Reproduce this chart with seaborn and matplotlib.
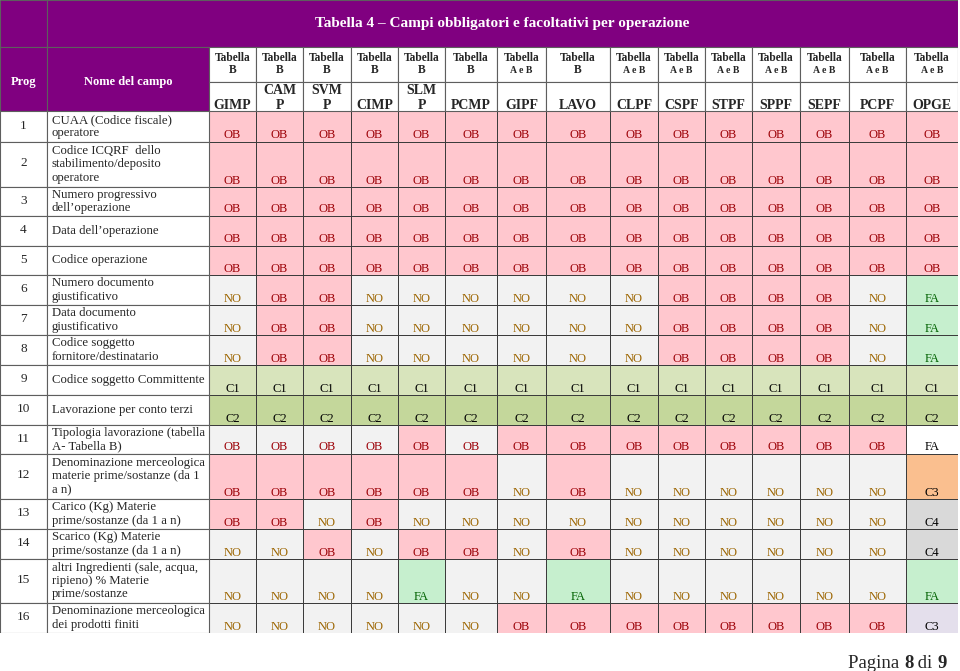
import matplotlib
matplotlib.use("Agg")
import numpy as np
import matplotlib.pyplot as plt
import seaborn as sns
from matplotlib.colors import ListedColormap
from matplotlib.patches import Rectangle
from matplotlib.transforms import offset_copy

TITLE = "Tabella 4 – Campi obbligatori e facoltativi per operazione"
OPERATIONS = ["GIMP", "CAMP", "SVMP", "CIMP", "SLMP", "PCMP", "GIPF", "LAVO",
              "CLPF", "CSPF", "STPF", "SPPF", "SEPF", "PCPF", "OPGE"]
OP_LINES = [["GIMP"], ["CAM", "P"], ["SVM", "P"], ["CIMP"], ["SLM", "P"], ["PCMP"],
            ["GIPF"], ["LAVO"], ["CLPF"], ["CSPF"], ["STPF"], ["SPPF"], ["SEPF"],
            ["PCPF"], ["OPGE"]]
OP_TABLE = ["B"] * 6 + ["A e B", "B"] + ["A e B"] * 7
PROG = [str(i) for i in range(1, 17)]
FIELDS = [
    "CUAA (Codice fiscale)\noperatore",
    "Codice ICQRF  dello\nstabilimento/deposito\noperatore",
    "Numero progressivo\ndell’operazione",
    "Data dell’operazione",
    "Codice operazione",
    "Numero documento\ngiustificativo",
    "Data documento\ngiustificativo",
    "Codice soggetto\nfornitore/destinatario",
    "Codice soggetto Committente",
    "Lavorazione per conto terzi",
    "Tipologia lavorazione (tabella\nA- Tabella B)",
    "Denominazione merceologica\nmaterie prime/sostanze (da 1\na n)",
    "Carico (Kg) Materie\nprime/sostanze (da 1 a n)",
    "Scarico (Kg) Materie\nprime/sostanze (da 1 a n)",
    "altri Ingredienti (sale, acqua,\nripieno) % Materie\nprime/sostanze",
    "Denominazione merceologica\ndei prodotti finiti",
]
VALUES = [
    "OB OB OB OB OB OB OB OB OB OB OB OB OB OB OB",
    "OB OB OB OB OB OB OB OB OB OB OB OB OB OB OB",
    "OB OB OB OB OB OB OB OB OB OB OB OB OB OB OB",
    "OB OB OB OB OB OB OB OB OB OB OB OB OB OB OB",
    "OB OB OB OB OB OB OB OB OB OB OB OB OB OB OB",
    "NO OB OB NO NO NO NO NO NO OB OB OB OB NO FA",
    "NO OB OB NO NO NO NO NO NO OB OB OB OB NO FA",
    "NO OB OB NO NO NO NO NO NO OB OB OB OB NO FA",
    "C1 C1 C1 C1 C1 C1 C1 C1 C1 C1 C1 C1 C1 C1 C1",
    "C2 C2 C2 C2 C2 C2 C2 C2 C2 C2 C2 C2 C2 C2 C2",
    "OB OB OB OB OB OB OB OB OB OB OB OB OB OB FA",
    "OB OB OB OB OB OB NO OB NO NO NO NO NO NO C3",
    "OB OB NO OB NO NO NO NO NO NO NO NO NO NO C4",
    "NO NO OB NO OB OB NO OB NO NO NO NO NO NO C4",
    "NO NO NO NO FA NO NO FA NO NO NO NO NO NO FA",
    "NO NO NO NO NO NO OB OB OB OB OB OB OB OB C3",
]
# cell fills that differ from the usual colour of their code
FILL_OVERRIDES = {(10, 0): "grey", (10, 1): "grey", (10, 2): "grey", (10, 3): "grey",
                  (10, 5): "grey", (10, 14): "white", (15, 14): "lavender"}

FILL_NAMES = ["pink", "grey", "green", "c1", "c2", "orange", "c4", "lavender", "white"]
FILL_COLORS = ["#FFC7CE", "#F2F2F2", "#C6EFCE", "#D8E4BC", "#C4D79B", "#FABF8F",
               "#D9D9D9", "#E4DFEC", "#FFFFFF"]
CODE_FILL = {"OB": "pink", "NO": "grey", "FA": "green", "C1": "c1", "C2": "c2",
             "C3": "orange", "C4": "c4"}
CODE_TEXT = {"OB": "#9C0006", "NO": "#9C6500", "FA": "#006100", "C1": "black",
             "C2": "black", "C3": "black", "C4": "black"}

# table geometry (pixels of the page)
X_EDGES = [0, 47, 209, 256, 303, 351, 398, 445, 497, 546, 610, 658, 705, 752, 800, 849, 906, 958]
Y_EDGES = [0, 47, 82, 111, 142, 187, 216, 246, 275, 305, 335, 365, 395, 425, 454, 499,
           529, 559, 603, 633]
PURPLE = "#800080"
SERIF = "Liberation Serif"

labels = np.array([row.split() for row in VALUES])
codes = np.zeros(labels.shape, dtype=int)
for r in range(labels.shape[0]):
    for c in range(labels.shape[1]):
        name = FILL_OVERRIDES.get((r, c), CODE_FILL[labels[r, c]])
        codes[r, c] = FILL_NAMES.index(name)

sns.set_style("white")
plt.rcParams["font.family"] = [SERIF, "DejaVu Serif"]

fig = plt.figure(figsize=(9.6, 6.71), dpi=100)
W, H = 960, 671
ax = fig.add_axes([0, 1 - Y_EDGES[-1] / H, X_EDGES[-1] / W, Y_EDGES[-1] / H])

sns.heatmap(codes, ax=ax, cmap=ListedColormap(FILL_COLORS), vmin=-0.5,
            vmax=len(FILL_COLORS) - 0.5, cbar=False, linewidths=0.7,
            linecolor="#3c3c3c", annot=labels, fmt="",
            annot_kws={"fontsize": 9, "family": SERIF},
            xticklabels=False, yticklabels=False)

# piecewise-linear scales so every column / row gets its own width / height
xd = np.arange(-2, len(OPERATIONS) + 1, dtype=float)
yd = np.arange(-3, len(FIELDS) + 1, dtype=float)
xp = np.array(X_EDGES, dtype=float)
yp = np.array(Y_EDGES, dtype=float)
xd_e = np.r_[xd[0] - 50, xd, xd[-1] + 50]
xp_e = np.r_[xp[0] - 2500, xp, xp[-1] + 2500]
yd_e = np.r_[yd[0] - 50, yd, yd[-1] + 50]
yp_e = np.r_[yp[0] - 2500, yp, yp[-1] + 2500]
x_fwd = lambda v: np.interp(v, xd_e, xp_e)
x_inv = lambda p: np.interp(p, xp_e, xd_e)
ax.set_xscale("function", functions=(x_fwd, x_inv))
ax.set_yscale("function", functions=(lambda v: np.interp(v, yd_e, yp_e),
                                     lambda p: np.interp(p, yp_e, yd_e)))
ax.set_xlim(-2, len(OPERATIONS))
ax.set_ylim(len(FIELDS), -3)
ax.set_xticks([]); ax.set_yticks([])
ax.set_xticks([], minor=True); ax.set_yticks([], minor=True)
for s in ax.spines.values():
    s.set_visible(False)

# values sit at the bottom of their cells
lift = offset_copy(ax.transData, fig=fig, x=0, y=3.5, units="dots")
for t in ax.texts:
    x, y = t.get_position()
    r, c = int(y), int(x)
    code = labels[r, c]
    colour = "black" if FILL_NAMES[codes[r, c]] == "white" else CODE_TEXT[code]
    t.set_position((x, r + 1))
    t.set_verticalalignment("baseline")
    t.set_transform(lift)
    t.set_color(colour)

edge = dict(edgecolor="#5e5e5e", linewidth=0.8)

# title row and purple header cells
ax.add_patch(Rectangle((-2, -3), 1, 1, facecolor=PURPLE, **edge))
ax.add_patch(Rectangle((-1, -3), len(OPERATIONS) + 1, 1, facecolor=PURPLE, **edge))
title_x = float(x_inv((x_fwd(-1) + x_fwd(len(OPERATIONS))) / 2))
ax.text(title_x, -2.5, TITLE, ha="center", va="center",
        color="white", fontsize=11, fontweight="bold")
ax.add_patch(Rectangle((-2, -2), 1, 2, facecolor=PURPLE, **edge))
ax.add_patch(Rectangle((-1, -2), 1, 2, facecolor=PURPLE, **edge))
ax.text(-1.5, -1.0, "Prog", ha="center", va="center", color="white",
        fontsize=9, fontweight="bold")
ax.text(-0.5, -1.0, "Nome del campo", ha="center", va="center", color="white",
        fontsize=9, fontweight="bold")

# operation header cells
for c, (tab, lines) in enumerate(zip(OP_TABLE, OP_LINES)):
    ax.add_patch(Rectangle((c, -2), 1, 1, facecolor="white", **edge))
    ax.add_patch(Rectangle((c, -1), 1, 1, facecolor="white", **edge))
    ax.text(c + 0.5, -1.6, "Tabella", ha="center", va="baseline",
            fontsize=8.3, fontweight="bold")
    ax.text(c + 0.5, -1.25, tab, ha="center", va="baseline",
            fontsize=8.3 if tab == "B" else 7.0, fontweight="bold")
    if len(lines) == 1:
        ax.text(c + 0.5, -0.07, lines[0], ha="center", va="baseline",
                fontsize=10, fontweight="bold")
    else:
        ax.text(c + 0.5, -0.6, lines[0], ha="center", va="baseline",
                fontsize=10, fontweight="bold")
        ax.text(c + 0.5, -0.07, lines[1], ha="center", va="baseline",
                fontsize=10, fontweight="bold")

# left columns: progressive number and field name
for r, (p, f) in enumerate(zip(PROG, FIELDS)):
    ax.add_patch(Rectangle((-2, r), 1, 1, facecolor="white", **edge))
    ax.add_patch(Rectangle((-1, r), 1, 1, facecolor="white", **edge))
    ax.text(-1.5, r + 0.47, p, ha="center", va="center", fontsize=9.5)
    ax.text(-0.97, r + 0.5, f, ha="left", va="center", fontsize=9.2,
            linespacing=1.15)

# page footer
p1 = fig.text(848 / W, 1 - 668 / H, "Pagina ", fontsize=13.5, va="baseline")
p2 = ax.annotate("8", xy=(1, 0), xycoords=p1, va="bottom", fontsize=13.5,
                 fontweight="bold", annotation_clip=False)
p3 = ax.annotate(" di ", xy=(1, 0), xycoords=p2, va="bottom", fontsize=13.5,
                 annotation_clip=False)
ax.annotate("9", xy=(1, 0), xycoords=p3, va="bottom", fontsize=13.5,
            fontweight="bold", annotation_clip=False)

fig.savefig("out.png", dpi=100)
